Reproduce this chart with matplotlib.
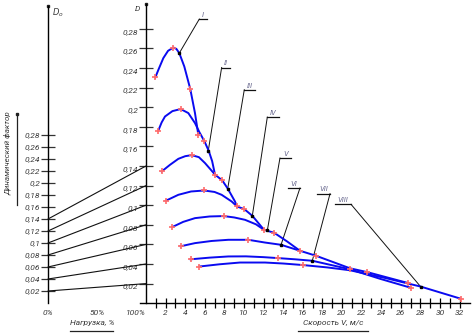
import matplotlib.pyplot as plt
from matplotlib.patches import ConnectionPatch
from matplotlib.lines import Line2D

plt.rcParams['font.family'] = ['Roboto', 'DejaVu Sans']
plt.rcParams['font.style'] = 'italic'

W, H = 475, 333

# --- data (V in m/s, D dimensionless) ---
gears = ['I', 'II', 'III', 'IV', 'V', 'VI', 'VII', 'VIII']

v_1 = [0.95, 1.30, 1.77, 2.25, 2.79, 3.10, 3.40, 3.91, 4.52, 5.00, 5.34]
d_1 = [0.2303, 0.2390, 0.2501, 0.2575, 0.2609, 0.2595, 0.2552, 0.2415, 0.2185, 0.1940, 0.1718]
v_2 = [1.26, 1.60, 1.94, 2.70, 3.54, 4.32, 5.00, 5.45, 5.95, 6.40, 6.75, 7.04]
d_2 = [0.1762, 0.1845, 0.1905, 0.1960, 0.1981, 0.1940, 0.1838, 0.1745, 0.1655, 0.1555, 0.1450, 0.1313]
v_3 = [1.60, 2.45, 3.30, 4.00, 4.66, 5.40, 6.02, 7.04, 7.79, 8.34, 9.08, 9.29]
d_3 = [0.1344, 0.1412, 0.1473, 0.1500, 0.1511, 0.1490, 0.1430, 0.1313, 0.1252, 0.1170, 0.1038, 0.0987]
v_4 = [2.01, 3.30, 4.60, 5.95, 7.00, 7.72, 8.74, 9.29, 10.03, 10.85, 12.04]
d_4 = [0.1045, 0.1106, 0.1140, 0.1150, 0.1135, 0.1106, 0.1038, 0.0987, 0.0960, 0.0892, 0.0749]
v_5 = [2.68, 3.80, 5.00, 6.50, 7.93, 9.00, 10.10, 11.22, 12.04, 13.09, 14.40, 15.71]
d_5 = [0.0777, 0.0830, 0.0868, 0.0885, 0.0889, 0.0875, 0.0851, 0.0805, 0.0749, 0.0718, 0.0630, 0.0535]
v_6 = [3.54, 5.00, 6.70, 8.40, 10.44, 12.14, 13.78, 15.71, 17.35, 20.82, 22.58, 26.77]
d_6 = [0.0581, 0.0613, 0.0635, 0.0647, 0.0647, 0.0619, 0.0596, 0.0535, 0.0484, 0.0356, 0.0317, 0.0205]
v_7 = [4.56, 6.50, 8.40, 10.20, 11.97, 13.50, 15.20, 16.97, 20.82, 23.88, 27.04]
d_7 = [0.0448, 0.0465, 0.0477, 0.0478, 0.0470, 0.0460, 0.0448, 0.0433, 0.0346, 0.0249, 0.0157]
v_8 = [5.43, 7.50, 9.59, 12.14, 14.00, 16.05, 18.50, 20.82, 24.50, 28.01, 32.14]
d_8 = [0.0374, 0.0397, 0.0415, 0.0415, 0.0405, 0.0389, 0.0365, 0.0336, 0.0255, 0.0170, 0.0045]

curves_v = [v_1, v_2, v_3, v_4, v_5, v_6, v_7, v_8]
curves_d = [d_1, d_2, d_3, d_4, d_5, d_6, d_7, d_8]
# which points carry a "+" marker
marks = [[0, 4, 8, 10], [0, 4, 8, 11], [0, 4, 8, 11], [0, 3, 8, 10],
         [0, 4, 9, 11], [0, 4, 8, 10, 11], [0, 5, 8, 10], [0, 5, 10]]

# leader lines: point on curve and the little shelf with the gear number
dot_v = [3.40, 6.36, 8.34, 10.85, 12.38, 13.78, 16.97, 28.01]
dot_d = [0.2552, 0.1558, 0.1170, 0.0892, 0.0742, 0.0596, 0.0433, 0.0170]
shelf_v0 = [5.44, 7.72, 10.03, 12.38, 13.67, 14.52, 17.42, 19.29]
shelf_v1 = [6.19, 8.62, 11.12, 13.60, 14.77, 15.71, 18.78, 20.92]
shelf_d = [0.2899, 0.2405, 0.2178, 0.1899, 0.1481, 0.1175, 0.1118, 0.1009]
shelf_left = [True, True, True, True, True, False, False, False]

d_ticks = [0.02, 0.04, 0.06, 0.08, 0.10, 0.12, 0.14, 0.16, 0.18, 0.20, 0.22, 0.24, 0.26, 0.28]
d_labels = ['0,02', '0,04', '0,06', '0,08', '0,1', '0,12', '0,14', '0,16', '0,18', '0,2',
            '0,22', '0,24', '0,26', '0,28']
v_major = list(range(2, 33, 2))
v_minor = list(range(1, 33, 2))
load_ticks = [0, 50, 100]
load_labels = ['0%', '50%', '100%']
nomo_d = [0.02, 0.04, 0.06, 0.08, 0.10, 0.12, 0.14]


def fx(x):
    return x / W


def fy(y):
    return 1 - y / H


fig = plt.figure(figsize=(4.75, 3.33), dpi=100)
fig.patch.set_facecolor('white')

lab = dict(fontsize=6, color='#3a3a3a', style='italic')

# ---------------- main chart D(V) ----------------
ax = fig.add_axes([fx(140.1), fy(303.2), (470 - 140.1) / W, 299.4 / H])
ax.set_xlim(-0.6, 33.06)
ax.set_ylim(0, 0.3055)
ax.patch.set_alpha(0)
for s in ['top', 'right']:
    ax.spines[s].set_visible(False)
ax.spines['left'].set_position(('data', 0))
ax.spines['left'].set_linewidth(1.0)
ax.spines['bottom'].set_linewidth(1.0)

ax.set_xticks(v_major)
ax.set_xticklabels([str(v) for v in v_major], **lab)
ax.set_xticks(v_minor, minor=True)
ax.tick_params(axis='x', which='both', direction='inout', length=7, width=0.9, pad=1.5)
ax.set_yticks(d_ticks)
ax.set_yticklabels(d_labels, **lab)
for t in ax.get_yticklabels():
    t.set_va('top')
ax.tick_params(axis='y', direction='inout', length=10, width=0.9, pad=0.5, color='#333333')

for i in range(len(gears)):
    ax.plot(curves_v[i], curves_d[i], color='#0a0af0', lw=1.4, zorder=3)
    mv = [curves_v[i][j] for j in marks[i]]
    md = [curves_d[i][j] for j in marks[i]]
    ax.plot(mv, md, ls='none', marker='+', ms=4.5, mew=1.2, color='#ff6b6b', zorder=4)

for i, g in enumerate(gears):
    ax.plot([shelf_v0[i], shelf_v1[i]], [shelf_d[i], shelf_d[i]], color='#111111', lw=0.9)
    start = shelf_v0[i] if shelf_left[i] else shelf_v1[i]
    ax.plot([start, dot_v[i]], [shelf_d[i], dot_d[i]], color='#111111', lw=0.7)
    ax.plot(dot_v[i], dot_d[i], marker='s', ms=2.0, color='black', zorder=5)
    ax.text((shelf_v0[i] + shelf_v1[i]) / 2, shelf_d[i] + 0.0012, g, ha='center', va='bottom',
            fontsize=5.5, color='#6a6a90')

ax.plot(0, 0.3055, marker='s', ms=1.8, color='#222222', clip_on=False)

# ---------------- left nomogram D0 vs load ----------------
axn = fig.add_axes([fx(48), fy(303), 98 / W, 297.5 / H])
axn.set_xlim(0, 100)
axn.set_ylim(0, 297.5 / 600)
axn.patch.set_alpha(0)
for s in ['top', 'right', 'bottom']:
    axn.spines[s].set_visible(False)
axn.spines['left'].set_linewidth(1.0)
axn.set_yticks(d_ticks)
axn.set_yticklabels(d_labels, **lab)
axn.tick_params(axis='y', direction='inout', length=10, width=0.9, pad=0.5, color='#333333')
axn.set_xticks(load_ticks)
axn.set_xticklabels(load_labels, **lab)
axn.get_xticklabels()[2].set_ha('right')
axn.tick_params(axis='x', length=0, pad=5)
axn.plot(0, 297.5 / 600, marker='s', ms=1.8, color='#222222', clip_on=False)

for k in nomo_d:
    con = ConnectionPatch(xyA=(0, k), coordsA=axn.transData, xyB=(0, k), coordsB=ax.transData,
                          color='#111111', lw=0.8)
    fig.add_artist(con)

# ---------------- captions ----------------
fig.text(fx(137), fy(9), 'D', fontsize=6, color='#3a3a3a', ha='center', va='center')
fig.text(fx(58), fy(13), r'$D_o$', fontsize=6, color='#3a3a3a', ha='center', va='center')

fig.text(fx(92), fy(323.5), 'Нагрузка, %', fontsize=6, color='#3a3a3a', ha='center', va='center')
fig.add_artist(Line2D([fx(70), fx(113)], [fy(330.5), fy(330.5)], color='#222222', lw=0.9))
fig.text(fx(333), fy(323.5), 'Скорость V, м/с', fontsize=6, color='#3a3a3a', ha='center', va='center')
fig.add_artist(Line2D([fx(298), fx(368)], [fy(330.5), fy(330.5)], color='#222222', lw=0.9))

fig.text(fx(8), fy(153), 'Динамический фактор', fontsize=5.8, color='#3a3a3a',
         rotation=90, ha='center', va='center')
fig.add_artist(Line2D([fx(16.5), fx(16.5)], [fy(114), fy(205)], color='#222222', lw=0.9))
fig.add_artist(Line2D([fx(16.5)], [fy(114)], marker='s', ms=1.8, color='#222222'))

fig.savefig('out.png', dpi=100, facecolor='white')
